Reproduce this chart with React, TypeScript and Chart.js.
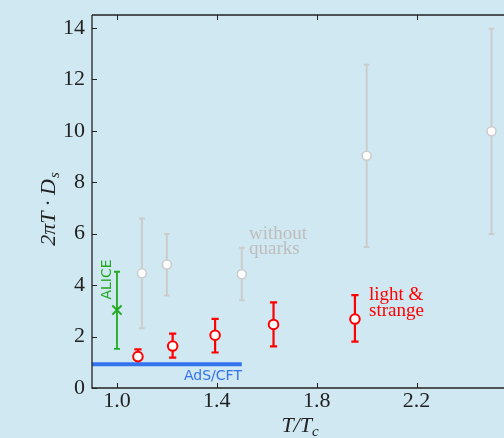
import { useEffect, useRef } from "react";
import { Chart, registerables } from "chart.js";

Chart.register(...registerables);

const X_TICKS = [1.0, 1.4, 1.8, 2.2];
const Y_TICKS = [0, 2, 4, 6, 8, 10, 12, 14];

// without quarks (gray)
const GRAY_X = [1.1, 1.2, 1.5, 2.0, 2.5];
const GRAY_Y = [4.46, 4.8, 4.42, 9.03, 9.98];
const GRAY_LO = [2.32, 3.6, 3.41, 5.48, 5.99];
const GRAY_HI = [6.59, 5.99, 5.45, 12.57, 13.97];

// light & strange (red)
const RED_X = [1.084, 1.223, 1.393, 1.627, 1.953];
const RED_Y = [1.22, 1.63, 2.05, 2.47, 2.68];
const RED_LO = [0.92, 1.18, 1.38, 1.62, 1.8];
const RED_HI = [1.5, 2.11, 2.69, 3.33, 3.61];

// ALICE (green)
const ALICE_X = [1.0];
const ALICE_Y = [3.03];
const ALICE_LO = [1.52];
const ALICE_HI = [4.52];

// AdS/CFT line
const ADS_X = [0.9, 1.5];
const ADS_Y = [0.92, 0.92];

const BG = "#d0e8f2";
const GRAY = "#cccccc";
const RED = "#ff0000";
const GREEN = "#22aa22";
const BLUE = "#3373ee";
const AXIS = "#222222";
const SERIF = "'Liberation Serif', 'Times New Roman', serif";
const SANS = "'DejaVu Sans', sans-serif";

const ERRORBARS = [
  { xs: GRAY_X, lo: GRAY_LO, hi: GRAY_HI, color: GRAY, width: 2, cap: 2.8 },
  { xs: RED_X, lo: RED_LO, hi: RED_HI, color: RED, width: 2.2, cap: 3.6 },
  { xs: ALICE_X, lo: ALICE_LO, hi: ALICE_HI, color: GREEN, width: 1.8, cap: 3 },
];

const zip = (xs: number[], ys: number[]) => xs.map((x, i) => ({ x, y: ys[i] }));

const customPlugin = {
  id: "custom",
  beforeDraw(chart: any) {
    const { ctx, width, height } = chart;
    ctx.save();
    ctx.fillStyle = BG;
    ctx.fillRect(0, 0, width, height);
    ctx.restore();
  },
  beforeDatasetsDraw(chart: any) {
    const { ctx } = chart;
    const sx = chart.scales.x;
    const sy = chart.scales.y;
    ctx.save();
    for (const eb of ERRORBARS) {
      ctx.strokeStyle = eb.color;
      ctx.lineWidth = eb.width;
      eb.xs.forEach((xv: number, i: number) => {
        const px = sx.getPixelForValue(xv);
        const p1 = sy.getPixelForValue(eb.lo[i]);
        const p2 = sy.getPixelForValue(eb.hi[i]);
        ctx.beginPath();
        ctx.moveTo(px, p1);
        ctx.lineTo(px, p2);
        ctx.moveTo(px - eb.cap, p1);
        ctx.lineTo(px + eb.cap, p1);
        ctx.moveTo(px - eb.cap, p2);
        ctx.lineTo(px + eb.cap, p2);
        ctx.stroke();
      });
    }
    ctx.restore();
  },
  afterDraw(chart: any) {
    const { ctx, chartArea } = chart;
    const { left, right, top, bottom } = chartArea;
    const sx = chart.scales.x;
    const sy = chart.scales.y;
    ctx.save();
    // spines
    ctx.strokeStyle = AXIS;
    ctx.lineWidth = 1.3;
    ctx.beginPath();
    ctx.moveTo(left, top);
    ctx.lineTo(left, bottom);
    ctx.lineTo(right, bottom);
    ctx.moveTo(left, top);
    ctx.lineTo(right, top);
    ctx.stroke();
    // inward ticks
    ctx.lineWidth = 1;
    const tl = 5;
    ctx.beginPath();
    for (const v of X_TICKS) {
      const px = Math.round(sx.getPixelForValue(v)) + 0.5;
      ctx.moveTo(px, bottom);
      ctx.lineTo(px, bottom - tl);
      ctx.moveTo(px, top);
      ctx.lineTo(px, top + tl);
    }
    for (const v of Y_TICKS) {
      const py = Math.round(sy.getPixelForValue(v)) + 0.5;
      ctx.moveTo(left, py);
      ctx.lineTo(left + tl, py);
    }
    ctx.stroke();

    // y title: 2πT · D_s
    ctx.fillStyle = AXIS;
    ctx.save();
    ctx.translate(55, 209);
    ctx.rotate(-Math.PI / 2);
    ctx.textBaseline = "alphabetic";
    ctx.textAlign = "left";
    const mainFont = `italic 22px ${SERIF}`;
    const subFont = `italic 15px ${SERIF}`;
    ctx.font = mainFont;
    const mainTxt = "2πT · D";
    const w1 = ctx.measureText(mainTxt).width;
    ctx.font = subFont;
    const w2 = ctx.measureText("s").width;
    const startX = -(w1 + w2 + 1) / 2;
    ctx.font = mainFont;
    ctx.fillText(mainTxt, startX, 0);
    ctx.font = subFont;
    ctx.fillText("s", startX + w1 + 1, 4);
    ctx.restore();

    // x title: T/T_c
    ctx.save();
    ctx.textBaseline = "alphabetic";
    ctx.textAlign = "left";
    ctx.font = mainFont;
    const xt = "T/T";
    const xw1 = ctx.measureText(xt).width;
    ctx.font = subFont;
    const xw2 = ctx.measureText("c").width;
    const xs0 = 300 - (xw1 + xw2) / 2;
    ctx.font = mainFont;
    ctx.fillText(xt, xs0, 432);
    ctx.font = subFont;
    ctx.fillText("c", xs0 + xw1, 436);
    ctx.restore();

    // annotations
    ctx.textAlign = "left";
    ctx.textBaseline = "alphabetic";
    ctx.font = `19px ${SERIF}`;
    ctx.fillStyle = "#bdbdbd";
    ctx.fillText("without", 249, 239);
    ctx.fillText("quarks", 249, 254);
    ctx.fillStyle = RED;
    ctx.fillText("light &", 369, 300);
    ctx.fillText("strange", 369, 316);

    ctx.font = `14px ${SANS}`;
    ctx.fillStyle = BLUE;
    ctx.fillText("AdS/CFT", 184, 380);

    ctx.save();
    ctx.translate(107, 279.5);
    ctx.rotate(-Math.PI / 2);
    ctx.textAlign = "center";
    ctx.textBaseline = "middle";
    ctx.fillStyle = GREEN;
    ctx.fillText("ALICE", 0, 0);
    ctx.restore();

    ctx.restore();
  },
};

export default function App() {
  const ref = useRef<HTMLCanvasElement>(null);
  useEffect(() => {
    document.body.style.margin = "0";
    const canvas = ref.current;
    if (!canvas) return;
    const chart = new Chart(canvas, {
      type: "scatter",
      data: {
        datasets: [
          {
            type: "line",
            data: zip(ADS_X, ADS_Y),
            borderColor: BLUE,
            borderWidth: 4,
            pointRadius: 0,
            fill: false,
          } as any,
          {
            data: zip(ALICE_X, ALICE_Y),
            pointStyle: "crossRot",
            pointRadius: 6.5,
            pointBorderWidth: 2,
            borderColor: GREEN,
            backgroundColor: GREEN,
          },
          {
            data: zip(GRAY_X, GRAY_Y),
            pointStyle: "circle",
            pointRadius: 4.5,
            pointBorderWidth: 1.6,
            borderColor: GRAY,
            backgroundColor: "#ffffff",
          },
          {
            data: zip(RED_X, RED_Y),
            pointStyle: "circle",
            pointRadius: 4.8,
            pointBorderWidth: 2,
            borderColor: RED,
            backgroundColor: "#ffffff",
          },
        ],
      },
      plugins: [customPlugin],
      options: {
        animation: false,
        responsive: false,
        devicePixelRatio: 1,
        layout: { autoPadding: false, padding: { top: 15, right: 0, left: 0, bottom: 0 } },
        plugins: {
          legend: { display: false },
          tooltip: { enabled: false },
        },
        scales: {
          x: {
            type: "linear",
            min: 0.9,
            max: 2.55,
            grid: { display: false, drawTicks: false },
            border: { display: false },
            afterBuildTicks: (s: any) => {
              s.ticks = X_TICKS.map((v) => ({ value: v }));
            },
            afterFit: (s: any) => {
              s.height = 50;
              s.paddingLeft = 0;
              s.paddingRight = 0;
            },
            ticks: {
              padding: 0,
              color: AXIS,
              font: { family: SERIF, size: 22 },
              callback: (v: any) => Number(v).toFixed(1),
            },
          },
          y: {
            type: "linear",
            min: 0,
            max: 14.5,
            grid: { display: false, drawTicks: false },
            border: { display: false },
            afterBuildTicks: (s: any) => {
              s.ticks = Y_TICKS.map((v) => ({ value: v }));
            },
            afterFit: (s: any) => {
              s.width = 92;
              s.paddingTop = 0;
              s.paddingBottom = 0;
            },
            ticks: {
              padding: 7,
              color: AXIS,
              font: { family: SERIF, size: 22 },
              callback: (v: any) => String(v),
            },
          },
        },
      } as any,
    });
    return () => chart.destroy();
  }, []);
  return (
    <div style={{ width: 504, height: 438, background: BG }}>
      <canvas ref={ref} width={504} height={438} style={{ width: 504, height: 438, display: "block" }} />
    </div>
  );
}
